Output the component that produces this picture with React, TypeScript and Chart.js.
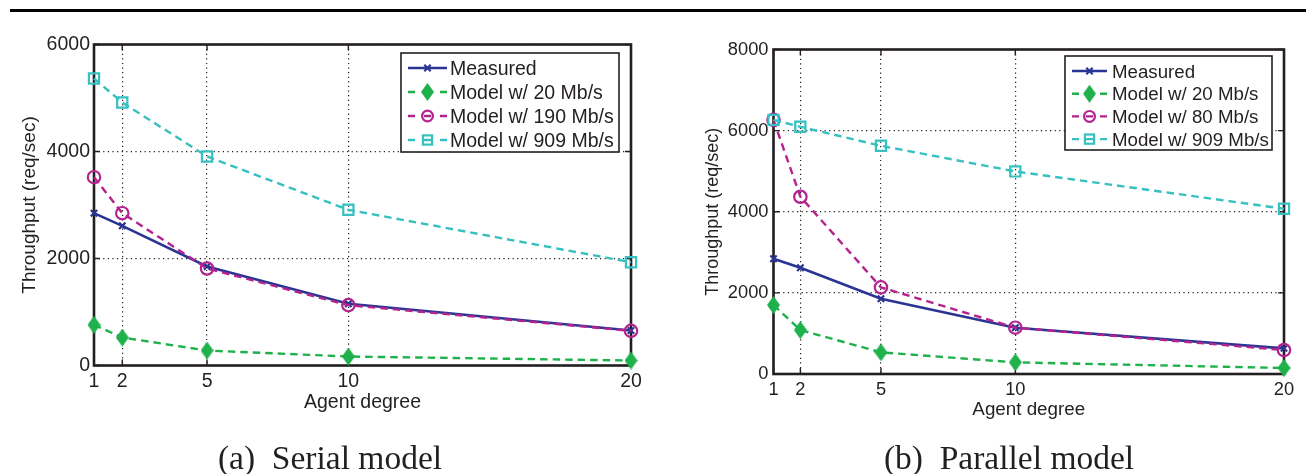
import React, { useEffect, useRef } from "react";
import { Chart, registerables } from "chart.js";

Chart.register(...registerables);

// ---------- data ----------
const agentDegrees = [1, 2, 5, 10, 20];
const xTickValues = [1, 2, 5, 10, 20];

const serialYTicks = [0, 2000, 4000, 6000];
const serialLabels = ["Measured", "Model w/ 20 Mb/s", "Model w/ 190 Mb/s", "Model w/ 909 Mb/s"];
const serialMeasured = [2847, 2611, 1850, 1153, 654];
const serialModel20 = [760, 523, 280, 168, 93];
const serialModel190 = [3520, 2847, 1813, 1128, 648];
const serialModel909 = [5364, 4916, 3907, 2910, 1931];

const parallelYTicks = [0, 2000, 4000, 6000, 8000];
const parallelLabels = ["Measured", "Model w/ 20 Mb/s", "Model w/ 80 Mb/s", "Model w/ 909 Mb/s"];
const parallelMeasured = [2842, 2620, 1856, 1142, 632];
const parallelModel20 = [1700, 1084, 534, 287, 148];
const parallelModel80 = [6265, 4370, 2136, 1142, 591];
const parallelModel909 = [6265, 6094, 5626, 4994, 4074];

const yAxisTitle = "Throughput (req/sec)";
const xAxisTitle = "Agent degree";
const serialCaption = "(a)  Serial model";
const parallelCaption = "(b)  Parallel model";

// ---------- styles ----------
const INK = "#231f20";
const SANS = "'Liberation Sans', Arial, Helvetica, sans-serif";
const COL_MEASURED = "#2a3593";
const COL_GREEN = "#1fb14b";
const COL_MAGENTA = "#b4228e";
const COL_CYAN = "#36c0c0";

function makeDiamond(w: number, h: number, color: string): HTMLCanvasElement {
  const c = document.createElement("canvas");
  c.width = w;
  c.height = h;
  const g = c.getContext("2d")!;
  g.fillStyle = color;
  g.beginPath();
  g.moveTo(w / 2, 0);
  g.lineTo(w, h / 2);
  g.lineTo(w / 2, h);
  g.lineTo(0, h / 2);
  g.closePath();
  g.fill();
  return c;
}

function drawMarker(ctx: CanvasRenderingContext2D, style: any, x: number, y: number, r: number, color: string, lw: number) {
  ctx.save();
  ctx.lineWidth = lw;
  ctx.strokeStyle = color;
  ctx.fillStyle = color;
  ctx.setLineDash([]);
  if (style instanceof HTMLCanvasElement) {
    ctx.drawImage(style, x - style.width / 2, y - style.height / 2);
  } else if (style === "circle") {
    ctx.beginPath();
    ctx.arc(x, y, r, 0, Math.PI * 2);
    ctx.stroke();
  } else if (style === "rect") {
    const h = r * Math.SQRT1_2;
    ctx.strokeRect(x - h, y - h, 2 * h, 2 * h);
  } else if (style === "crossRot") {
    const h = r * Math.SQRT1_2;
    ctx.beginPath();
    ctx.moveTo(x - h, y - h);
    ctx.lineTo(x + h, y + h);
    ctx.moveTo(x - h, y + h);
    ctx.lineTo(x + h, y - h);
    ctx.stroke();
  }
  ctx.restore();
}

const frameLegendPlugin = {
  id: "frameLegend",
  beforeDatasetsDraw(chart: any, _args: any, opts: any) {
    const { ctx, chartArea: a } = chart;
    const xs = chart.scales.x;
    const ys = chart.scales.y;
    ctx.save();
    ctx.strokeStyle = INK;
    ctx.lineWidth = 2.6;
    ctx.strokeRect(a.left, a.top, a.right - a.left, a.bottom - a.top);
    ctx.lineWidth = 1.4;
    const tl = 6;
    ctx.beginPath();
    xs.ticks.forEach((t: any) => {
      const p = xs.getPixelForValue(t.value);
      ctx.moveTo(p, a.bottom);
      ctx.lineTo(p, a.bottom - tl);
      ctx.moveTo(p, a.top);
      ctx.lineTo(p, a.top + tl);
    });
    ys.ticks.forEach((t: any) => {
      const p = ys.getPixelForValue(t.value);
      ctx.moveTo(a.left, p);
      ctx.lineTo(a.left + tl, p);
      ctx.moveTo(a.right, p);
      ctx.lineTo(a.right - tl, p);
    });
    ctx.stroke();
    ctx.restore();
  },
  afterDraw(chart: any, _args: any, opts: any) {
    const L = opts.box;
    if (!L) return;
    const ctx: CanvasRenderingContext2D = chart.ctx;
    ctx.save();
    ctx.fillStyle = "#ffffff";
    ctx.fillRect(L.left, L.top, L.width, L.height);
    ctx.strokeStyle = INK;
    ctx.lineWidth = 1.6;
    ctx.strokeRect(L.left, L.top, L.width, L.height);
    ctx.font = `${L.fontSize}px ${SANS}`;
    ctx.textBaseline = "alphabetic";
    ctx.textAlign = "left";
    chart.data.datasets.forEach((ds: any, i: number) => {
      const y = L.rowY0 + i * L.rowGap;
      const cx = (L.x0 + L.x1) / 2;
      ctx.save();
      ctx.strokeStyle = ds.borderColor;
      ctx.lineWidth = ds.borderWidth;
      ctx.beginPath();
      if (ds.borderDash && ds.borderDash.length) {
        ctx.moveTo(L.x0, y);
        ctx.lineTo(L.x0 + 7, y);
        ctx.moveTo(L.x1 - 7, y);
        ctx.lineTo(L.x1, y);
        ctx.moveTo(cx - 3.5, y);
        ctx.lineTo(cx + 3.5, y);
      } else {
        ctx.moveTo(L.x0, y);
        ctx.lineTo(L.x1, y);
      }
      ctx.stroke();
      ctx.restore();
      drawMarker(ctx, ds.pointStyle, cx, y, ds.legendRadius, ds.pointBorderColor, ds.pointBorderWidth);
      ctx.fillStyle = INK;
      ctx.fillText(ds.label, L.textX, y + 0.358 * L.fontSize);
    });
    ctx.restore();
  },
};

type Spec = {
  canvasLeft: number;
  canvasWidth: number;
  plotLeft: number;
  plotRight: number;
  plotTop: number;
  plotBottom: number;
  yTicks: number[];
  labels: string[];
  series: number[][];
  tickFont: number;
  yTitleFont: number;
  xTitleFont: number;
  yTitleX: number;
  xTitleY: number;
  yTickPad: number;
  xTickPad: number;
  legend: { left: number; top: number; width: number; height: number; rowY0: number; rowGap: number; x0: number; x1: number; textX: number; fontSize: number };
};

const H = 474;

const serialSpec: Spec = {
  canvasLeft: 0,
  canvasWidth: 660,
  plotLeft: 94,
  plotRight: 631,
  plotTop: 44.5,
  plotBottom: 365.5,
  yTicks: serialYTicks,
  labels: serialLabels,
  series: [serialMeasured, serialModel20, serialModel190, serialModel909],
  tickFont: 19.5,
  yTitleFont: 19,
  xTitleFont: 19.5,
  yTitleX: 30,
  xTitleY: 403,
  yTickPad: 4,
  xTickPad: 4.8,
  legend: { left: 401, top: 53, width: 218, height: 99, rowY0: 68, rowGap: 24, x0: 408, x1: 447, textX: 450, fontSize: 19.5 },
};

const parallelSpec: Spec = {
  canvasLeft: 660,
  canvasWidth: 646,
  plotLeft: 773.5,
  plotRight: 1284,
  plotTop: 49.5,
  plotBottom: 374,
  yTicks: parallelYTicks,
  labels: parallelLabels,
  series: [parallelMeasured, parallelModel20, parallelModel80, parallelModel909],
  tickFont: 18.3,
  yTitleFont: 18,
  xTitleFont: 18.8,
  yTitleX: 713,
  xTitleY: 409.4,
  yTickPad: 5,
  xTickPad: 4.5,
  legend: { left: 1065, top: 56, width: 207, height: 94, rowY0: 71, rowGap: 22.7, x0: 1072, x1: 1107, textX: 1112, fontSize: 18.7 },
};

function buildConfig(spec: Spec): any {
  const diamond = makeDiamond(13, 18, COL_GREEN);
  const colors = [COL_MEASURED, COL_GREEN, COL_MAGENTA, COL_CYAN];
  const styles: any[] = ["crossRot", diamond, "circle", "rect"];
  const radii = [4.5, 9, 6.2, 7.2];
  const legendRadii = [4.5, 9, 5.4, 6.5];
  const pointWidths = [2.2, 1, 2.2, 2.2];
  const datasets = spec.series.map((vals, i) => ({
    label: spec.labels[i],
    data: agentDegrees.map((x, j) => ({ x, y: vals[j] })),
    borderColor: colors[i],
    backgroundColor: colors[i],
    borderWidth: i === 0 ? 2.6 : 2.4,
    borderDash: i === 0 ? [] : [7.5, 5],
    pointStyle: styles[i],
    pointRadius: radii[i],
    pointHoverRadius: radii[i],
    pointBorderColor: colors[i],
    pointBackgroundColor: i === 1 ? colors[i] : "rgba(0,0,0,0)",
    pointBorderWidth: pointWidths[i],
    legendRadius: legendRadii[i],
    tension: 0,
    fill: false,
    clip: false,
    order: 4 - i,
  }));
  const L = spec.legend;
  const off = spec.canvasLeft;
  const yLine = spec.yTitleFont * 1.2;
  const xLine = spec.xTitleFont * 1.2;
  return {
    type: "line",
    data: { datasets },
    plugins: [frameLegendPlugin],
    options: {
      animation: false,
      responsive: false,
      maintainAspectRatio: false,
      devicePixelRatio: 1,
      events: [],
      layout: {
        padding: { left: 0, top: spec.plotTop, right: off + spec.canvasWidth - spec.plotRight, bottom: 0 },
      },
      plugins: {
        legend: { display: false },
        tooltip: { enabled: false },
        title: { display: false },
        frameLegend: {
          box: {
            left: L.left - off,
            top: L.top,
            width: L.width,
            height: L.height,
            rowY0: L.rowY0,
            rowGap: L.rowGap,
            x0: L.x0 - off,
            x1: L.x1 - off,
            textX: L.textX - off,
            fontSize: L.fontSize,
          },
        },
      },
      scales: {
        x: {
          type: "linear",
          min: xTickValues[0],
          max: xTickValues[xTickValues.length - 1],
          afterBuildTicks: (s: any) => {
            s.ticks = xTickValues.map((value) => ({ value }));
          },
          afterFit: (s: any) => {
            s.height = H - spec.plotBottom;
          },
          grid: { color: INK, lineWidth: 1.2, drawTicks: false },
          border: { display: false, dash: [1.2, 3.4] },
          ticks: {
            autoSkip: false,
            maxRotation: 0,
            padding: spec.xTickPad,
            color: INK,
            font: { family: SANS, size: spec.tickFont },
            callback: (v: any) => String(v),
          },
          title: {
            display: true,
            text: xAxisTitle,
            color: INK,
            font: { family: SANS, size: spec.xTitleFont },
            padding: { top: 0, bottom: H - spec.xTitleY - xLine / 2 },
          },
        },
        y: {
          type: "linear",
          min: spec.yTicks[0],
          max: spec.yTicks[spec.yTicks.length - 1],
          afterBuildTicks: (s: any) => {
            s.ticks = spec.yTicks.map((value) => ({ value }));
          },
          afterFit: (s: any) => {
            s.width = spec.plotLeft - off;
          },
          grid: { color: INK, lineWidth: 1.2, drawTicks: false },
          border: { display: false, dash: [1.2, 3.4] },
          ticks: {
            autoSkip: false,
            padding: spec.yTickPad,
            color: INK,
            font: { family: SANS, size: spec.tickFont },
            callback: (v: any) => String(v),
          },
          title: {
            display: true,
            text: yAxisTitle,
            color: INK,
            font: { family: SANS, size: spec.yTitleFont },
            padding: { top: spec.yTitleX - off - yLine / 2, bottom: 0 },
          },
        },
      },
    },
  };
}

function Panel({ spec }: { spec: Spec }) {
  const ref = useRef<HTMLCanvasElement>(null);
  useEffect(() => {
    if (!ref.current) return;
    const chart = new Chart(ref.current, buildConfig(spec));
    return () => chart.destroy();
  }, [spec]);
  return (
    <canvas
      ref={ref}
      width={spec.canvasWidth}
      height={H}
      style={{ position: "absolute", left: spec.canvasLeft, top: 0, width: spec.canvasWidth, height: H }}
    />
  );
}

function Caption({ text, center }: { text: string; center: number }) {
  return (
    <div
      style={{
        position: "absolute",
        left: center - 200,
        width: 400,
        top: 441,
        textAlign: "center",
        fontFamily: "'Liberation Serif', 'Times New Roman', serif",
        fontSize: 33.5,
        lineHeight: "34px",
        whiteSpace: "pre",
        color: INK,
      }}
    >
      {text}
    </div>
  );
}

export default function App() {
  return (
    <div
      style={{
        position: "absolute",
        left: 0,
        top: 0,
        width: 1306,
        height: H,
        overflow: "hidden",
        background: "#ffffff",
      }}
    >
      <div style={{ position: "absolute", left: 10, top: 9, width: 1296, height: 3, background: "#000" }} />
      <Panel spec={serialSpec} />
      <Panel spec={parallelSpec} />
      <Caption text={serialCaption} center={330} />
      <Caption text={parallelCaption} center={1009} />
    </div>
  );
}
